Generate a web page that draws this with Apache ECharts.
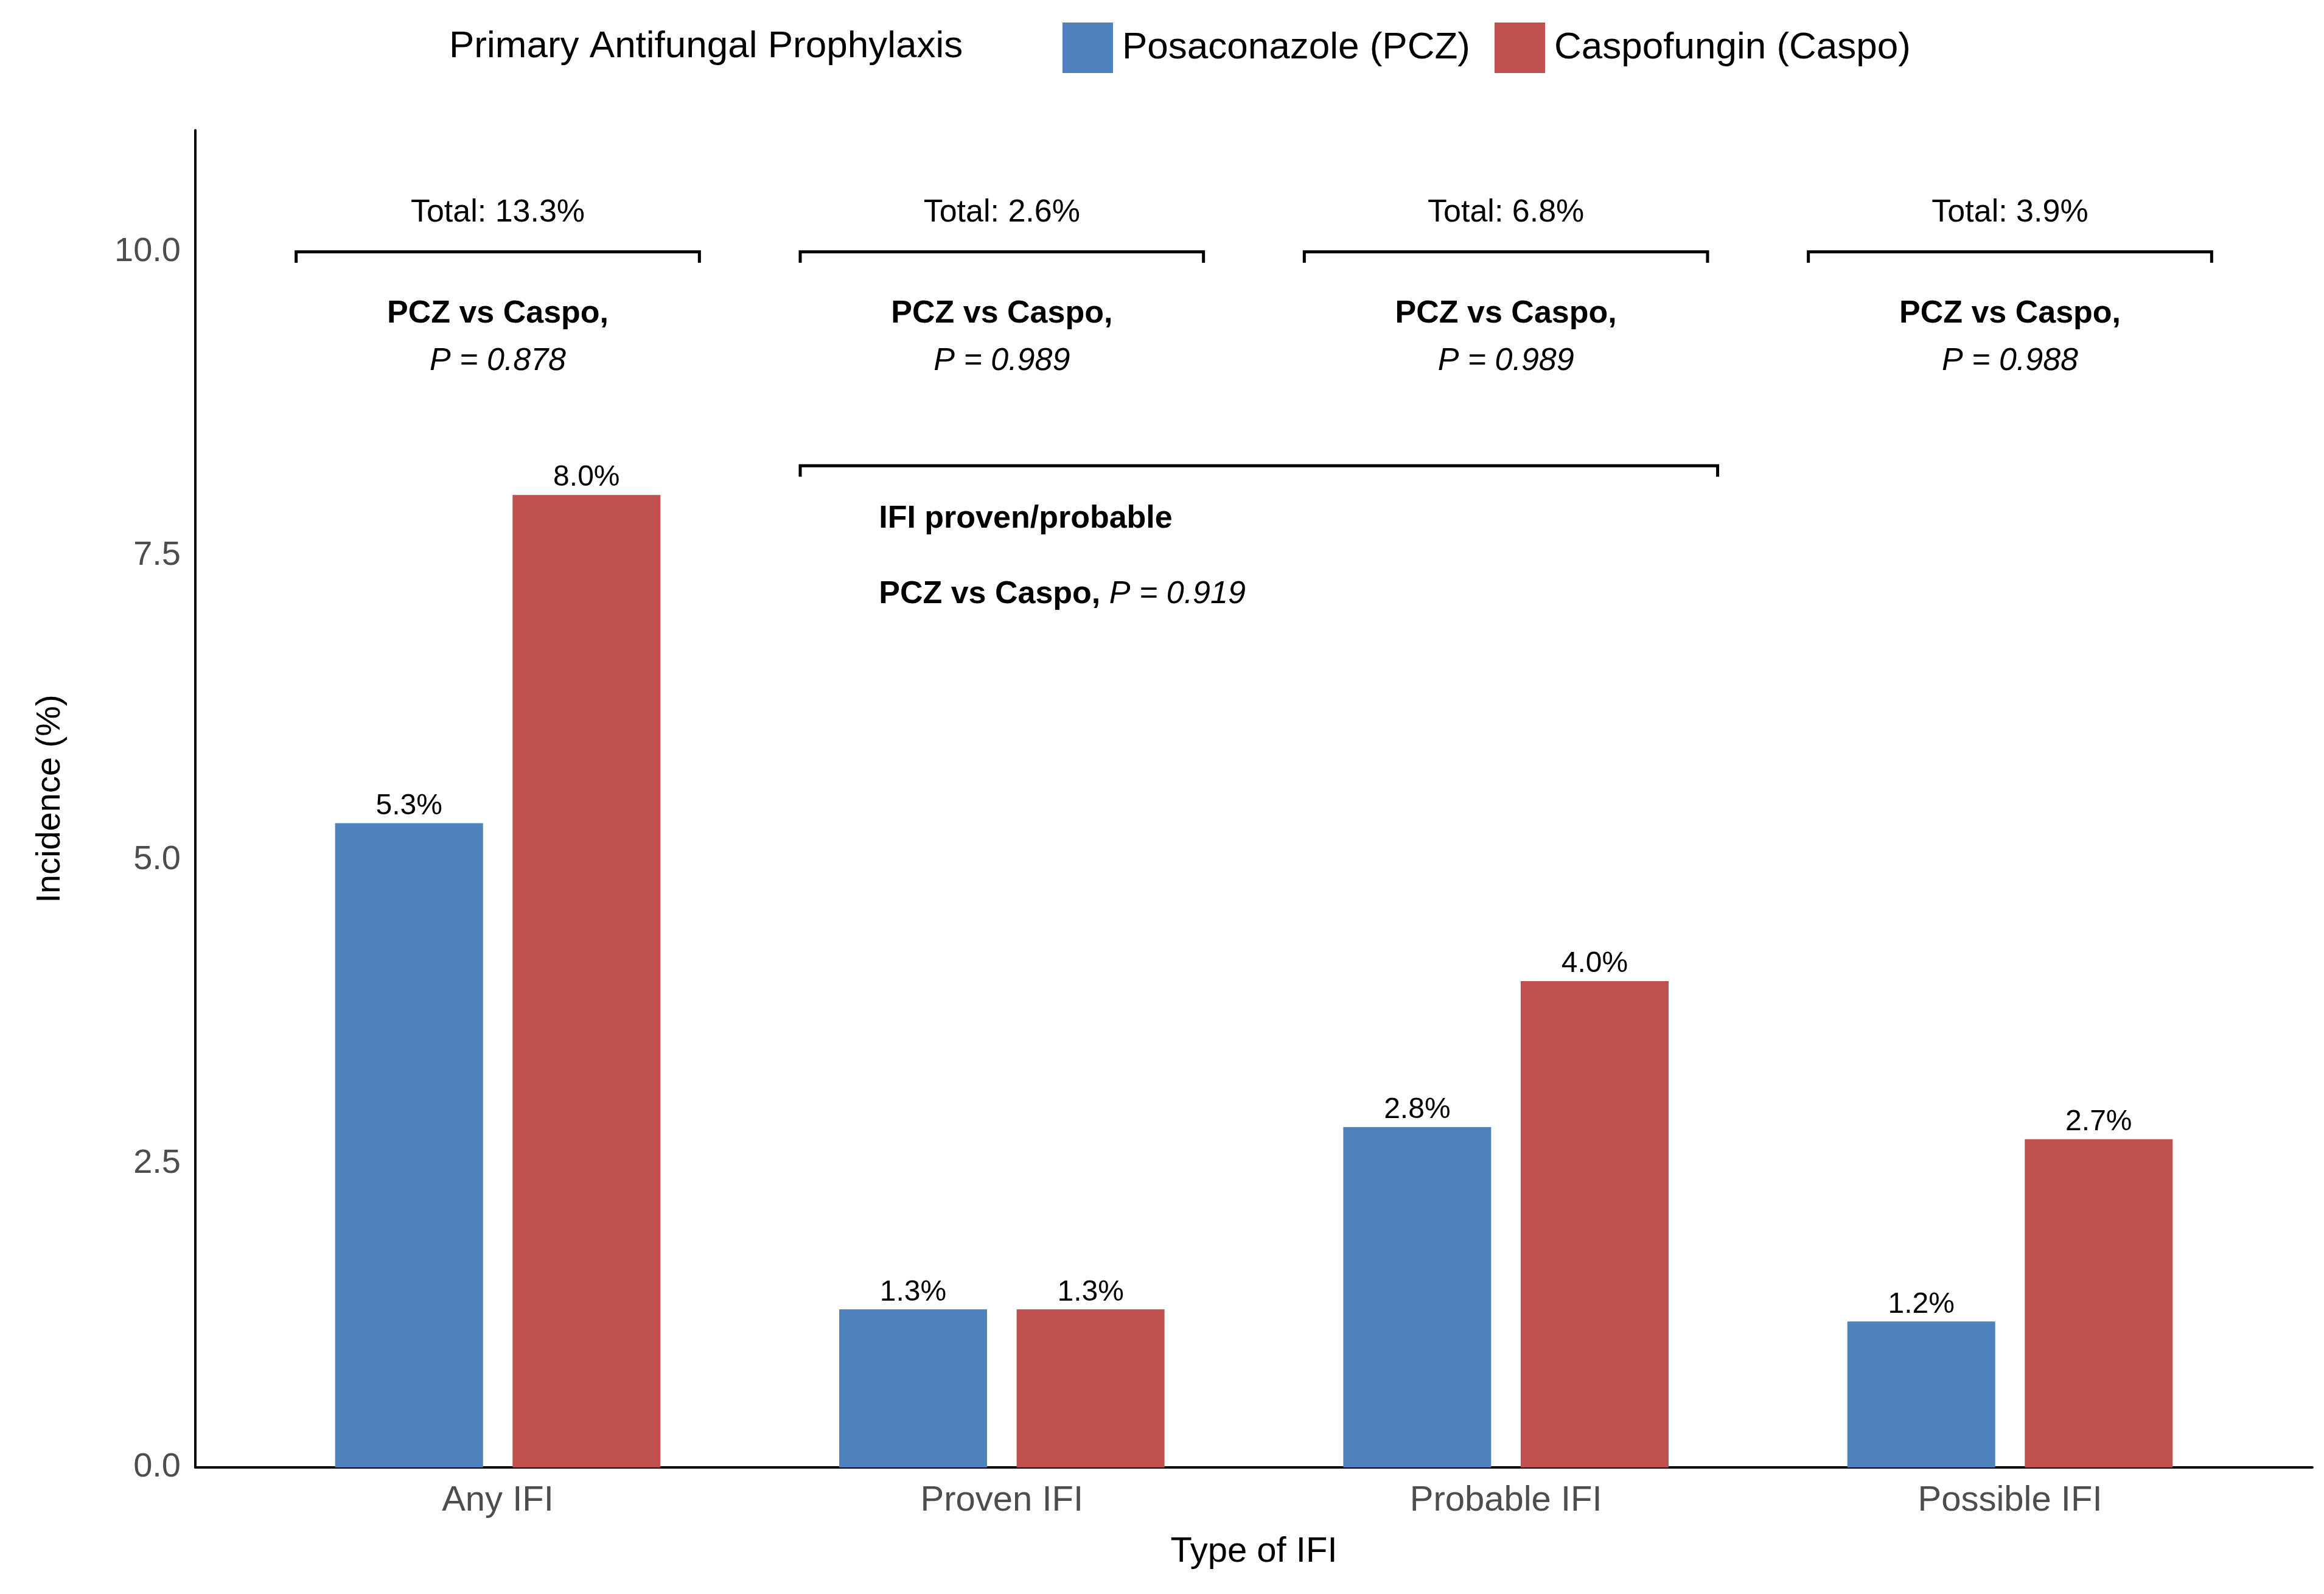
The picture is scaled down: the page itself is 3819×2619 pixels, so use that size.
<!DOCTYPE html>
<html>
<head>
<meta charset="utf-8">
<script src="https://cdn.jsdelivr.net/npm/echarts@6/dist/echarts.min.js"></script>
<style>html,body{margin:0;background:#fff}#chart{width:3819px;height:2619px}</style>
</head>
<body>
<div id="chart"></div>
<script>
// categories and values
var categories = ['Any IFI', 'Proven IFI', 'Probable IFI', 'Possible IFI'];
var pczValues = [5.3, 1.3, 2.8, 1.2];
var caspoValues = [8.0, 1.3, 4.0, 2.7];
var totals = ['13.3%', '2.6%', '6.8%', '3.9%'];
var pValues = ['0.878', '0.989', '0.989', '0.988'];
var yTicks = [0, 2.5, 5, 7.5, 10];
// brackets: [x start, x end, y]
var brackets = [[0.6, 1.4, 10], [1.6, 2.4, 10], [2.6, 3.4, 10], [3.6, 4.4, 10], [1.6, 3.42, 8.24]];

var font = 'Arial, "Liberation Sans", sans-serif';
var chart = echarts.init(document.getElementById('chart'));

function pos(i) { return i + 1; }

var annot = [];
categories.forEach(function(c, i) {
    annot.push({ x: pos(i), y: 10.32, text: 'Total: ' + totals[i], align: 'center' });
    annot.push({ x: pos(i), y: 9.49, text: '{b|PCZ vs Caspo,}', align: 'center' });
    annot.push({ x: pos(i), y: 9.1, text: '{i|P = ' + pValues[i] + '}', align: 'center' });
});
annot.push({ x: 1.756, y: 7.8, text: '{b|IFI proven/probable}', align: 'left' });
annot.push({ x: 1.756, y: 7.18, text: '{b|PCZ vs Caspo, }{i|P = 0.919}', align: 'left' });

var richStyle = {
    b: { fontWeight: 'bold', fontSize: 52, fontFamily: font, fill: '#000' },
    i: { fontStyle: 'italic', fontSize: 52, fontFamily: font, fill: '#000' }
};

var option = {
    backgroundColor: '#fff',
    animation: false,
    grid: { left: 321, right: 19, top: 214, bottom: 208 },
    graphic: [{
        type: 'text', left: 738, top: 46,
        style: { text: 'Primary Antifungal Prophylaxis', fontSize: 62, fontFamily: font, fill: '#000' }
    }],
    legend: {
        left: 1741, top: 32,
        itemWidth: 83, itemHeight: 83, itemGap: 40,
        icon: 'rect',
        textStyle: { fontSize: 62, fontFamily: font, color: '#000', padding: [0, 0, 0, 10] },
        data: ['Posaconazole (PCZ)', 'Caspofungin (Caspo)']
    },
    xAxis: {
        type: 'value', min: 0.4, max: 4.6,
        name: 'Type of IFI', nameLocation: 'middle', nameGap: 110,
        nameTextStyle: { fontSize: 58, fontFamily: font, color: '#000' },
        axisLine: { show: true, lineStyle: { color: '#000', width: 4 } },
        axisTick: { show: false },
        splitLine: { show: false },
        axisLabel: {
            customValues: [1, 2, 3, 4], fontSize: 58, fontFamily: font, color: '#4d4d4d', margin: 26,
            formatter: function(v) { return categories[Math.round(v) - 1] || ''; }
        }
    },
    yAxis: {
        type: 'value', min: 0, max: 11,
        name: 'Incidence (%)', nameLocation: 'middle', nameGap: 210,
        nameTextStyle: { fontSize: 56, fontFamily: font, color: '#000' },
        axisLine: { show: true, lineStyle: { color: '#000', width: 4 } },
        axisTick: { show: false },
        splitLine: { show: false },
        axisLabel: {
            customValues: yTicks, fontSize: 56, fontFamily: font, color: '#4d4d4d', margin: 24,
            formatter: function(v) { return v.toFixed(1); }
        }
    },
    series: [{
        name: 'Posaconazole (PCZ)', type: 'bar', barWidth: 243, barGap: '20%',
        itemStyle: { color: '#4F81BD' },
        label: { show: true, position: 'top', distance: 4, fontSize: 48, fontFamily: font, color: '#000',
            formatter: function(p) { return p.value[1].toFixed(1) + '%'; } },
        data: pczValues.map(function(v, i) { return [pos(i), v]; })
    }, {
        name: 'Caspofungin (Caspo)', type: 'bar', barWidth: 243, barGap: '20%',
        itemStyle: { color: '#C0504D' },
        label: { show: true, position: 'top', distance: 4, fontSize: 48, fontFamily: font, color: '#000',
            formatter: function(p) { return p.value[1].toFixed(1) + '%'; } },
        data: caspoValues.map(function(v, i) { return [pos(i), v]; })
    }, {
        type: 'custom', silent: true,
        data: brackets,
        renderItem: function(params, api) {
            var a = api.coord([api.value(0), api.value(2)]);
            var b = api.coord([api.value(1), api.value(2)]);
            var d = 18;
            return {
                type: 'polyline',
                shape: { points: [[a[0], a[1] + d], a, b, [b[0], b[1] + d]] },
                style: { stroke: '#000', lineWidth: 5, fill: null }
            };
        }
    }, {
        type: 'custom', silent: true,
        data: annot.map(function(a) { return [a.x, a.y]; }),
        renderItem: function(params, api) {
            var a = annot[params.dataIndex];
            var p = api.coord([a.x, a.y]);
            return {
                type: 'text', x: p[0], y: p[1],
                style: { text: a.text, rich: richStyle, fontSize: 52, fontFamily: font, fill: '#000',
                    align: a.align, verticalAlign: 'middle' }
            };
        }
    }]
};
chart.setOption(option);
</script>
</body>
</html>
